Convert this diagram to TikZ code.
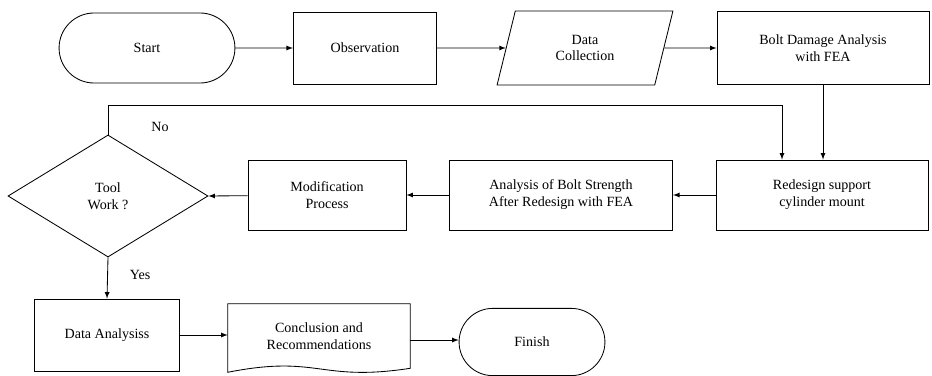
\documentclass[tikz,border=0pt]{standalone}
\usepackage{fontspec}
\setmainfont{Liberation Serif}
\usepackage{tikz}
\usetikzlibrary{shapes,arrows}
\tikzstyle{every picture}=[x=0.025cm,y=-0.025cm]
\tikzstyle{box}=[draw,rectangle,line width=0.6pt,align=center,inner sep=2pt]
\tikzstyle{term}=[draw,rounded rectangle,line width=0.6pt,align=center]
\tikzstyle{flow}=[-latex,line width=0.6pt]

\begin{document}
\begin{tikzpicture}

\useasboundingbox (0,0) rectangle (932,375);

% top row
\node[term, minimum width=4.63cm, minimum height=1.75cm] (start) at (147,48) {Start};
\node[box, minimum width=3.58cm, minimum height=1.8cm] (obs) at (365,48) {Observation};
\node[draw, trapezium, trapezium left angle=76, trapezium right angle=104, trapezium stretches=true, line width=0.6pt, align=center, minimum width=4.4cm, minimum height=1.85cm] (datacol) at (585,48) {Data\\Collection};
\node[box, minimum width=5.3cm, minimum height=1.83cm] (bolt) at (823,48) {Bolt Damage Analysis\\with FEA};

% middle row
\node[draw, diamond, line width=0.6pt, align=center, inner sep=0pt, minimum width=5cm, minimum height=3.05cm] (tool) at (108,196) {Tool\\Work ?};
\node[box, minimum width=3.95cm, minimum height=1.75cm] (modif) at (327,195) {Modification\\Process};
\node[box, minimum width=5.58cm, minimum height=1.75cm] (strength) at (561,195) {Analysis of Bolt Strength\\After Redesign with FEA};
\node[box, minimum width=5.3cm, minimum height=1.75cm] (redesign) at (822,195) {Redesign support\\cylinder mount};

% bottom row
\node[box, minimum width=3.63cm, minimum height=1.8cm] (dataan) at (107,335) {Data Analysiss};
\node[align=center, minimum width=4.55cm, minimum height=1.6cm] (concl) at (319,336) {Conclusion and\\Recommendations};
\draw[line width=0.6pt] (concl.south west) -- (concl.north west) -- (concl.north east) -- (concl.south east)
  .. controls ([yshift=-0.35cm]concl.south) and ([yshift=0.35cm]concl.south) .. ([yshift=-0.1cm]concl.south west) -- (concl.south west);
\node[term, minimum width=3.88cm, minimum height=1.68cm] (finish) at (532,342) {Finish};

\coordinate (nobend) at (782,105);

\draw[flow] (start) -- (obs);
\draw[flow] (obs) -- (datacol);
\draw[flow] (datacol) -- (bolt);
\draw[flow] (bolt.south) -- (bolt.south |- redesign.north);
\draw[flow] (tool.north) |- (nobend) -- (nobend |- redesign.north);
\draw[flow] (redesign) -- (strength);
\draw[flow] (strength) -- (modif);
\draw[flow] (modif) -- (tool.east);
\draw[flow] (tool.south) -- (dataan.north);
\draw[flow] (dataan.east) -- (dataan.east -| concl.west);
\draw[flow] ([yshift=-0.1cm]concl.east) -- ([yshift=-0.1cm]concl.east -| finish.west);

\node (nolabel) at (160,127) {No};
\node (yeslabel) at (140,275) {Yes};

\end{tikzpicture}
\end{document}
